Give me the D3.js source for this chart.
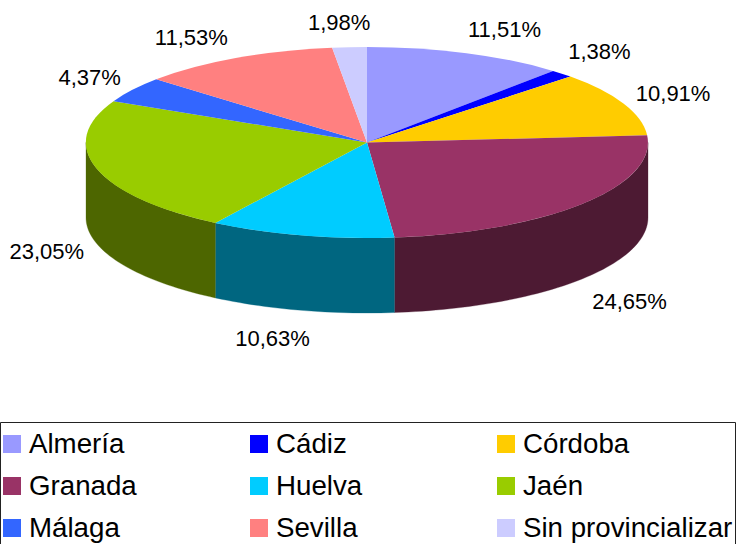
<!DOCTYPE html>
<html>
<head>
<meta charset="utf-8">
<script src="https://cdn.jsdelivr.net/npm/d3@7"></script>
<style>
  html, body { margin: 0; padding: 0; background: #fff; }
  svg { display: block; }
  text { font-family: "Liberation Sans", Arial, sans-serif; fill: #000; }
</style>
</head>
<body>
<svg width="737" height="544"></svg>
<script>
const provincias = ['Almería', 'Cádiz', 'Córdoba', 'Granada', 'Huelva', 'Jaén', 'Málaga', 'Sevilla', 'Sin provincializar'];
const valores = [11.51, 1.38, 10.91, 24.65, 10.63, 23.05, 4.37, 11.53, 1.98];
const etiquetas = ['11,51%', '1,38%', '10,91%', '24,65%', '10,63%', '23,05%', '4,37%', '11,53%', '1,98%'];
const colores = ['#9999ff', '#0000ff', '#ffcc00', '#993366', '#00ccff', '#99cc00', '#3366ff', '#ff8080', '#ccccff'];
const coloresLado = ['#4d4d80', '#000080', '#806600', '#4d1a33', '#006680', '#4d6600', '#1a3380', '#804040', '#666680'];

// the labels don't sit exactly on the radial spot, nudge them
const labelDx = [19, 0, 0, 6, -16, 2, 2, -19, -7];
const labelDy = [1, -4, 0, 5, 2, 0, 2, 2, 1];

const cx = 367, cy = 142.5, rx = 281, ry = 95.5, depth = 75;

const svg = d3.select('svg');
const x = d3.scaleLinear().domain([-1, 1]).range([cx - rx, cx + rx]);
const y = d3.scaleLinear().domain([-1, 1]).range([cy - ry, cy + ry]);

const arcs = d3.pie().sort(null).value((d) => d)(valores);

// side walls, only the front half of the pie can be seen
function wallPath(a0, a1) {
    let n = Math.max(2, Math.ceil((a1 - a0) * 40));
    let angles = d3.range(n + 1).map((i) => a0 + (a1 - a0) * i / n);
    let top = angles.map((a) => [x(Math.sin(a)), y(-Math.cos(a))]);
    let bottom = top.slice().reverse().map((p) => [p[0], p[1] + depth]);
    return d3.line()(top.concat(bottom)) + 'Z';
}

arcs.forEach((d, i) => {
    let a0 = Math.max(d.startAngle, Math.PI / 2);
    let a1 = Math.min(d.endAngle, 3 * Math.PI / 2);
    if (a1 <= a0) return;
    svg.append('path')
        .attr('d', wallPath(a0, a1))
        .attr('fill', coloresLado[i])
        .attr('stroke', coloresLado[i])
        .attr('stroke-width', 0.3);
});

// top face, a unit pie squashed into the ellipse
let arcGenerator = d3.arc().innerRadius(0).outerRadius(1);
svg.append('g')
    .attr('transform', `translate(${cx},${cy}) scale(${rx},${ry})`)
    .selectAll('path')
    .data(arcs)
    .join('path')
    .attr('d', arcGenerator)
    .attr('fill', (d, i) => colores[i]);

// data labels
arcs.forEach((d, i) => {
    let mid = (d.startAngle + d.endAngle) / 2;
    let lx = cx + 335 * Math.sin(mid) + labelDx[i];
    let ly = cy - 122 * Math.cos(mid) + labelDy[i];
    if (Math.cos(mid) < 0) ly += depth;
    svg.append('text')
        .attr('x', lx)
        .attr('y', ly)
        .attr('dy', '0.36em')
        .attr('text-anchor', 'middle')
        .attr('font-size', 22)
        .text(etiquetas[i]);
});

// legend
svg.append('path')
    .attr('d', 'M0.5,544V422.5H735.5V544')
    .attr('fill', 'none')
    .attr('stroke', '#222')
    .attr('stroke-width', 1);

const legendX = d3.scalePoint().domain([0, 1, 2]).range([3, 497]);
const legendY = d3.scalePoint().domain([0, 1, 2]).range([444, 528]);

let items = svg.append('g')
    .selectAll('g')
    .data(provincias)
    .join('g')
    .attr('transform', (d, i) => `translate(${legendX(i % 3)},${legendY(Math.floor(i / 3))})`);

items.append('rect')
    .attr('x', 0)
    .attr('y', -9)
    .attr('width', 18)
    .attr('height', 18)
    .attr('fill', (d, i) => colores[i]);

items.append('text')
    .attr('x', 26)
    .attr('dy', '0.34em')
    .attr('font-size', 27.7)
    .text((d) => d);
</script>
</body>
</html>
